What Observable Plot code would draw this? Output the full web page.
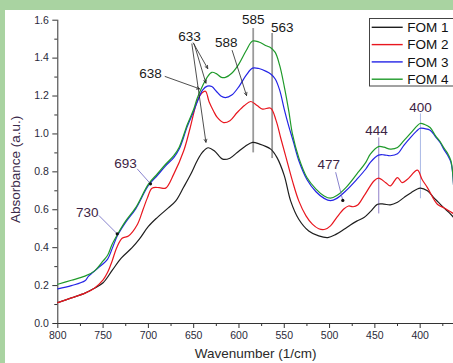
<!DOCTYPE html>
<html>
<head>
<meta charset="utf-8">
<script src="https://cdn.jsdelivr.net/npm/d3@7"></script>
<script src="https://cdn.jsdelivr.net/npm/@observablehq/plot@0.6"></script>
<style>
  html, body { margin: 0; padding: 0; background: #fff; }
  #wrap { width: 453px; height: 363px; background: #a9d3a1; position: relative; overflow: hidden; }
  #chart { position: absolute; left: 5px; top: 10px; width: 448px; height: 353px; background: #fff; }
  #chart svg { display: block; font-family: "Liberation Sans", Arial, sans-serif; }
</style>
</head>
<body>
<div id="wrap"><div id="chart"></div></div>
<script>
// ---- data ----
const seriesNames = ["FOM 1", "FOM 2", "FOM 3", "FOM 4"];
const seriesColors = ["#1e1e1e", "#e8161e", "#2424e6", "#1f9a2a"];

const fom1Wn = [800,785,770,760,750,740,730,718,710,700,690,678,670,661,653,646,640,634,627,618,610,602,593,585,578,565,558,550,543,534,523,512,502,493,484,477,470,462,455,447,440,433,425,418,410,400,392,385,380,374,368,363];
const fom1Abs = [0.11,0.135,0.16,0.185,0.215,0.28,0.345,0.40,0.445,0.512,0.56,0.61,0.645,0.72,0.79,0.86,0.905,0.927,0.91,0.867,0.872,0.902,0.935,0.955,0.948,0.92,0.875,0.78,0.647,0.55,0.488,0.462,0.453,0.47,0.497,0.52,0.54,0.559,0.59,0.629,0.63,0.626,0.64,0.664,0.69,0.714,0.70,0.664,0.64,0.611,0.585,0.559];

const fom2Wn = [800,785,770,760,750,745,740,735,729,722,712,706,701,696,688,681,672,661,654,646,641,637,633,628,624,617,610,602,594,587,580,574,565,559,554,548,541,534,526,519,512,505,499,492,484,479,474,469,462,451,446,438,433,425,420,414,403,398,392,381,374,365,363];
const fom2Abs = [0.11,0.135,0.16,0.185,0.23,0.27,0.33,0.40,0.45,0.462,0.524,0.60,0.664,0.714,0.717,0.714,0.788,0.911,1.03,1.175,1.215,1.225,1.17,1.12,1.087,1.06,1.07,1.113,1.15,1.171,1.15,1.131,1.136,1.07,0.98,0.875,0.752,0.647,0.568,0.524,0.50,0.497,0.515,0.56,0.605,0.62,0.616,0.625,0.673,0.752,0.767,0.743,0.726,0.77,0.743,0.761,0.809,0.761,0.717,0.629,0.611,0.585,0.58];

const fom3Wn = [800,785,770,766,755,745,740,734,725,714,700,690,681,672,666,657,650,646,640,635,630,625,620,615,608,600,592,585,578,570,565,560,555,550,545,540,534,525,515,506,499,492,482,470,460,455,446,440,433,425,418,410,404,400,395,389,383,378,374,370,366,363];
const fom3Abs = [0.183,0.20,0.225,0.25,0.295,0.34,0.395,0.465,0.535,0.605,0.728,0.782,0.832,0.875,0.92,1.04,1.12,1.17,1.232,1.252,1.25,1.225,1.20,1.192,1.205,1.25,1.31,1.347,1.345,1.33,1.316,1.29,1.23,1.13,1.04,0.96,0.86,0.76,0.695,0.66,0.648,0.66,0.70,0.76,0.815,0.85,0.888,0.89,0.885,0.895,0.94,0.985,1.015,1.03,1.028,1.02,0.985,0.955,0.92,0.89,0.85,0.72];

const fom4Wn = [800,785,770,760,750,745,740,734,725,714,700,690,681,672,666,657,650,646,640,635,630,625,620,615,608,600,592,585,578,570,565,560,555,550,545,541,534,525,515,506,499,492,482,470,460,455,446,440,433,425,418,410,404,400,395,389,383,378,374,370,366,363];
const fom4Abs = [0.207,0.228,0.25,0.275,0.33,0.36,0.418,0.471,0.541,0.611,0.735,0.79,0.84,0.885,0.93,1.05,1.13,1.19,1.255,1.30,1.325,1.318,1.30,1.298,1.32,1.37,1.44,1.49,1.485,1.465,1.455,1.43,1.36,1.25,1.12,1.0,0.875,0.77,0.709,0.673,0.661,0.675,0.717,0.788,0.85,0.893,0.933,0.93,0.92,0.928,0.965,1.007,1.04,1.055,1.05,1.034,0.99,0.96,0.928,0.9,0.858,0.72];

// peak labels (text and where they sit, in data units)
const peakLabels = ["585","563","633","638","588","693","730","477","444","400"];
const peakLabelWn = [584.3,552.3,654.6,697.6,614,725.2,767.6,500.9,448.2,399.7];
const peakLabelAbs = [1.603,1.561,1.514,1.319,1.484,0.844,0.587,0.839,1.018,1.141];
const peakLabelDark = [true,true,true,true,true,false,false,false,false,false];

// vertical marker lines
const markerWn = [584.3,563.4,445.7,399.7];
const markerTop = [1.556,1.53,0.979,1.106];
const markerBottom = [0.90,0.87,0.578,0.658];
const markerColor = ["#9a9a9a","#9a9a9a","#8f7fc8","#a9b8e6"];
const markerWidth = [1.8,1.8,1,1];

// black arrows (from label to peak)
const arrowFromWn = [650.5,649.5,652,681.5,607.5];
const arrowFromAbs = [1.48,1.475,1.475,1.303,1.44];
const arrowToWn = [634.5,636.5,636.5,643.5,591.7];
const arrowToAbs = [1.345,1.268,0.956,1.238,1.203];

// thin leader lines
const leaderFromWn = [712.4,754.7,493.3];
const leaderFromAbs = [0.816,0.57,0.798];
const leaderToWn = [697.7,734.4,485.4];
const leaderToAbs = [0.737,0.473,0.649];

const yMajor = [0,0.2,0.4,0.6,0.8,1.0,1.2,1.4,1.6];
const yMinor = [0.1,0.3,0.5,0.7,0.9,1.1,1.3,1.5];
const xMajor = [800,750,700,650,600,550,500,450,400];
const xMinor = [775,725,675,625,575,525,475,425,375];

// ---- build tables ----
const wnSets = [fom1Wn, fom2Wn, fom3Wn, fom4Wn];
const absSets = [fom1Abs, fom2Abs, fom3Abs, fom4Abs];
const rows = [];
seriesNames.forEach((name, i) => {
  wnSets[i].forEach((w, j) => rows.push({series: name, wn: w, abs: absSets[i][j]}));
});
const labels = peakLabels.map((t, i) => ({t, wn: peakLabelWn[i], abs: peakLabelAbs[i], dark: peakLabelDark[i]}));
const markers = markerWn.map((w, i) => ({wn: w, y1: markerTop[i], y2: markerBottom[i], c: markerColor[i], sw: markerWidth[i]}));
const arrows = arrowFromWn.map((w, i) => ({x1: w, y1: arrowFromAbs[i], x2: arrowToWn[i], y2: arrowToAbs[i]}));
const leaders = leaderFromWn.map((w, i) => ({x1: w, y1: leaderFromAbs[i], x2: leaderToWn[i], y2: leaderToAbs[i]}));

const plot = Plot.plot({
  width: 448,
  height: 353,
  marginLeft: 52.3,
  marginRight: 0,
  marginTop: 9.7,
  marginBottom: 40,
  style: {fontFamily: "Liberation Sans, Arial, sans-serif", fontSize: "10.5px", color: "#2a2a3a", background: "#fff"},
  x: {domain: [800, 363.2], axis: null},
  y: {domain: [0, 1.6], axis: null},
  color: {domain: seriesNames, range: seriesColors},
  marks: [
    Plot.axisY({ticks: yMajor, tickFormat: d3.format(".1f"), tickSize: 5, tickPadding: 4, label: null, stroke: "#333"}),
    Plot.axisY({ticks: yMinor, tickFormat: () => "", tickSize: 3, label: null, stroke: "#333"}),
    Plot.axisX({ticks: xMajor, tickFormat: d3.format("d"), tickSize: 5, tickPadding: 3, label: null, stroke: "#333"}),
    Plot.axisX({ticks: xMinor, tickFormat: () => "", tickSize: 3, label: null, stroke: "#333"}),
    Plot.ruleX([800], {y1: 0, y2: 1.6, stroke: "#333", strokeWidth: 1}),
    Plot.ruleY([0], {stroke: "#333", strokeWidth: 1}),
    Plot.ruleX(markers, {x: "wn", y1: "y1", y2: "y2", stroke: d => d.c, strokeWidth: d => d.sw}),
    Plot.line(rows, {x: "wn", y: "abs", z: "series", stroke: "series", curve: "catmull-rom", strokeWidth: 1.2}),
    Plot.arrow(arrows, {x1: "x1", y1: "y1", x2: "x2", y2: "y2", stroke: "#222", strokeWidth: 0.8, headLength: 6, headAngle: 50}),
    Plot.link(leaders, {x1: "x1", y1: "y1", x2: "x2", y2: "y2", stroke: "#6a62c0", strokeWidth: 0.8}),
    Plot.dot(leaders, {x: "x2", y: "y2", r: 1.6, fill: "#111", stroke: null}),
    Plot.text(labels, {x: "wn", y: "abs", text: "t", fontSize: 13.5, fill: d => d.dark ? "#1a1a1a" : "#3d2444"}),
    Plot.text(["Wavenumber (1/cm)"], {frameAnchor: "bottom", dy: 34, fontSize: 13.5, fill: "#2a2a2a"}),
    Plot.text(["Absorbance (a.u.)"], {frameAnchor: "left", textAnchor: "middle", dx: -41.8, dy: -2.4, rotate: -90, fontSize: 13.5, fill: "#3b2a4a"})
  ]
});
document.getElementById("chart").appendChild(plot);

// legend
const svg = d3.select(plot);
const lg = svg.append("g").attr("font-family", "Liberation Sans, Arial, sans-serif").attr("text-anchor", "start");
lg.append("rect").attr("x", 364.5).attr("y", 8.5).attr("width", 90).attr("height", 67.5)
  .attr("fill", "#fff").attr("stroke", "#444").attr("stroke-width", 1);
seriesNames.forEach((n, i) => {
  const y = 17.3 + i * 17.3;
  lg.append("line").attr("x1", 366.7).attr("x2", 397.7).attr("y1", y).attr("y2", y)
    .attr("stroke", seriesColors[i]).attr("stroke-width", 1.4);
  lg.append("text").attr("x", 402.3).attr("y", y).attr("dy", "0.35em")
    .attr("text-anchor", "start").attr("font-size", 13.5).attr("fill", "#111").text(n);
});
</script>
</body>
</html>
